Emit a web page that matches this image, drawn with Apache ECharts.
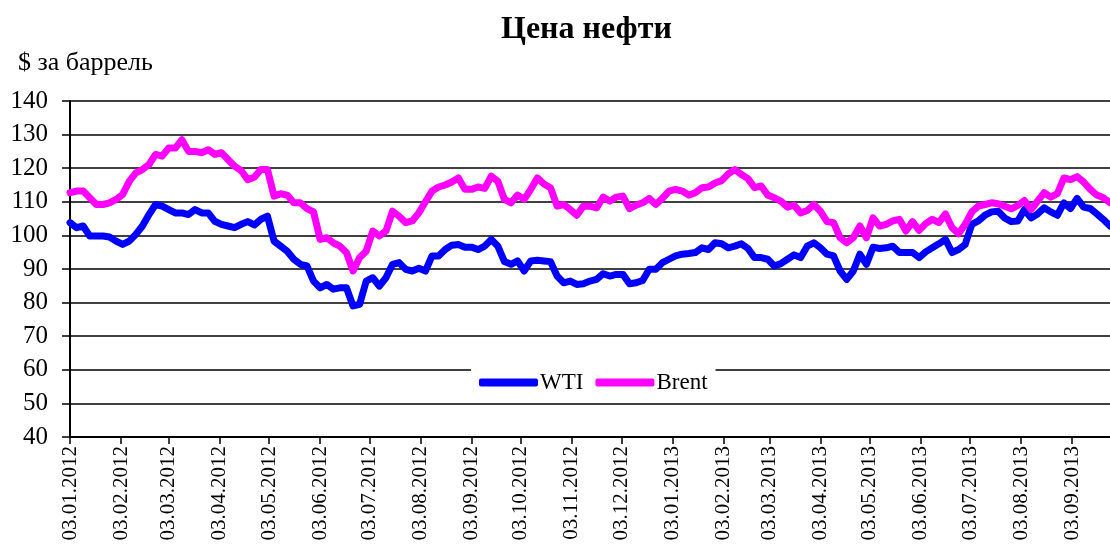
<!DOCTYPE html>
<html lang="ru">
<head>
    <meta charset="UTF-8">
    <title>Цена нефти</title>
    <script src="https://cdn.jsdelivr.net/npm/echarts@6/dist/echarts.min.js"></script>
</head>
<body style="margin:0">
<div id="showbox" style="width:1110px; height:545px;"></div>
</body>
<script type="text/javascript">
    // first trading day of the chart and days between samples
    var startDate = '03.01.2012';
    var stepDays = 4;
    var endDay = 632;

    var monthLabels = ['03.01.2012','03.02.2012','03.03.2012','03.04.2012','03.05.2012','03.06.2012',
        '03.07.2012','03.08.2012','03.09.2012','03.10.2012','03.11.2012','03.12.2012',
        '03.01.2013','03.02.2013','03.03.2013','03.04.2013','03.05.2013','03.06.2013',
        '03.07.2013','03.08.2013','03.09.2013'];

    // $ за баррель, one value every stepDays days
    var wti = [103.8,102.3,102.8,99.8,99.8,99.8,99.5,98.3,97.3,98.3,
        100.3,102.8,106.2,109.2,108.7,107.7,106.7,106.7,106.2,107.7,
        106.7,106.7,104.2,103.3,102.8,102.3,103.3,104.1,103.1,104.8,
        105.7,98.3,96.8,95.3,92.9,91.4,90.9,86.4,84.4,85.4,
        84.0,84.4,84.4,79.0,79.5,86.4,87.4,84.9,87.4,91.4,
        91.9,89.9,89.4,90.2,89.4,93.9,93.9,95.8,97.1,97.3,
        96.5,96.5,95.8,96.8,98.8,96.8,92.2,91.4,92.4,89.4,
        92.4,92.6,92.4,92.2,87.9,85.9,86.4,85.4,85.6,86.4,
        86.9,88.6,87.9,88.4,88.4,85.6,85.9,86.6,89.9,89.9,
        91.9,92.9,93.9,94.4,94.6,94.9,96.3,95.8,97.8,97.5,
        96.3,96.8,97.5,96.1,93.4,93.4,92.9,90.9,91.6,92.9,
        94.2,93.4,96.8,97.8,96.3,94.4,93.9,89.4,86.9,89.4,
        94.4,91.4,96.5,96.1,96.3,96.8,94.9,94.9,94.9,93.4,
        95.1,96.3,97.5,98.8,94.9,95.8,97.3,103.3,104.3,106.0,
        107.0,107.2,105.2,104.1,104.3,107.7,105.2,106.4,108.2,107.0,
        106.0,109.7,108.0,111.0,108.4,108.0,106.4,104.7,102.8];

    var brent = [112.7,113.2,113.2,111.2,109.2,109.2,109.7,110.7,112.2,116.1,
        118.6,119.6,121.1,124.1,123.6,126.0,126.0,128.5,125.0,125.0,
        124.6,125.5,124.1,124.6,122.6,120.6,119.3,116.6,117.3,119.6,
        119.6,111.7,112.4,112.0,109.7,109.7,108.0,107.0,98.8,99.3,
        97.8,96.8,94.9,89.4,93.4,95.3,101.3,99.8,101.3,107.2,
        105.7,103.8,104.3,106.7,110.0,113.2,114.4,115.0,115.9,117.1,
        113.7,113.7,114.4,114.0,117.6,116.1,110.7,109.7,112.0,110.7,
        113.7,117.1,115.3,114.2,108.7,109.2,107.7,106.0,108.7,108.7,
        108.2,111.4,110.2,111.4,111.7,108.0,109.0,109.7,111.0,109.2,
        111.0,113.2,113.7,113.2,112.0,112.7,114.2,114.4,115.6,116.3,
        118.3,119.6,118.1,116.9,114.2,114.7,112.0,111.2,110.2,108.4,
        109.0,106.7,107.4,109.2,107.2,104.1,103.8,99.3,97.8,99.3,
        102.8,99.3,105.2,102.8,103.3,104.3,104.8,101.3,104.1,101.5,
        103.5,104.8,103.8,106.4,102.3,100.5,103.3,107.0,108.7,109.2,
        109.7,109.4,108.7,107.9,108.9,110.4,107.7,110.2,112.7,111.4,
        112.4,117.1,116.6,117.5,115.9,113.7,112.0,111.2,109.7];

    function dayOf(s) {
        var p = s.split('.');
        var q = startDate.split('.');
        return Math.round((Date.UTC(+p[2], +p[1] - 1, +p[0]) - Date.UTC(+q[2], +q[1] - 1, +q[0])) / 86400000);
    }
    var monthTicks = monthLabels.map(dayOf);

    function toPoints(arr) {
        return arr.map(function (v, i) { return [i * stepDays, v]; });
    }

    var font = '"Liberation Serif", "Times New Roman", serif';
    var oilChart = echarts.init(document.getElementById('showbox'));

    oilChart.setOption({
        animation: false,
        title: {
            text: 'Цена нефти',
            left: 496,
            top: 9,
            textStyle: {fontFamily: font, fontSize: 32, fontWeight: 'bold', color: '#000'}
        },
        graphic: [{
            type: 'text',
            left: 18,
            top: 50,
            style: {text: '$ за баррель', font: '26px ' + font, fill: '#000'}
        }],
        legend: {
            left: 471,
            top: 365,
            backgroundColor: '#fff',
            padding: [6, 8, 6, 8],
            icon: 'roundRect',
            itemWidth: 59,
            itemHeight: 8,
            itemGap: 12,
            textStyle: {fontFamily: font, fontSize: 23, color: '#000', padding: [0, 0, 0, -3]},
            data: ['WTI', 'Brent']
        },
        grid: {left: 70, right: 0, top: 101, bottom: 108, containLabel: false},
        xAxis: {
            type: 'value',
            min: 0,
            max: endDay,
            splitLine: {show: false},
            axisLine: {lineStyle: {color: '#000', width: 2}},
            axisTick: {show: true, customValues: monthTicks, length: 7, lineStyle: {color: '#000', width: 1.5}},
            axisLabel: {
                customValues: monthTicks,
                rotate: 90,
                margin: 9,
                fontFamily: font,
                fontSize: 21,
                color: '#000',
                formatter: function (v) { return monthLabels[monthTicks.indexOf(v)]; }
            }
        },
        yAxis: {
            type: 'value',
            min: 40,
            max: 140,
            interval: 10,
            axisLine: {show: true, lineStyle: {color: '#000', width: 2}},
            axisTick: {show: true, length: 8, lineStyle: {color: '#000', width: 1.5}},
            axisLabel: {margin: 22, fontFamily: font, fontSize: 25, color: '#000'},
            splitLine: {lineStyle: {color: '#000', width: 1.5}}
        },
        series: [
            {
                name: 'WTI',
                type: 'line',
                showSymbol: false,
                color: '#0000ff',
                lineStyle: {width: 7, cap: 'round', join: 'round'},
                data: toPoints(wti)
            },
            {
                name: 'Brent',
                type: 'line',
                showSymbol: false,
                color: '#ff00ff',
                lineStyle: {width: 7, cap: 'round', join: 'round'},
                data: toPoints(brent)
            }
        ]
    });
</script>
</html>
